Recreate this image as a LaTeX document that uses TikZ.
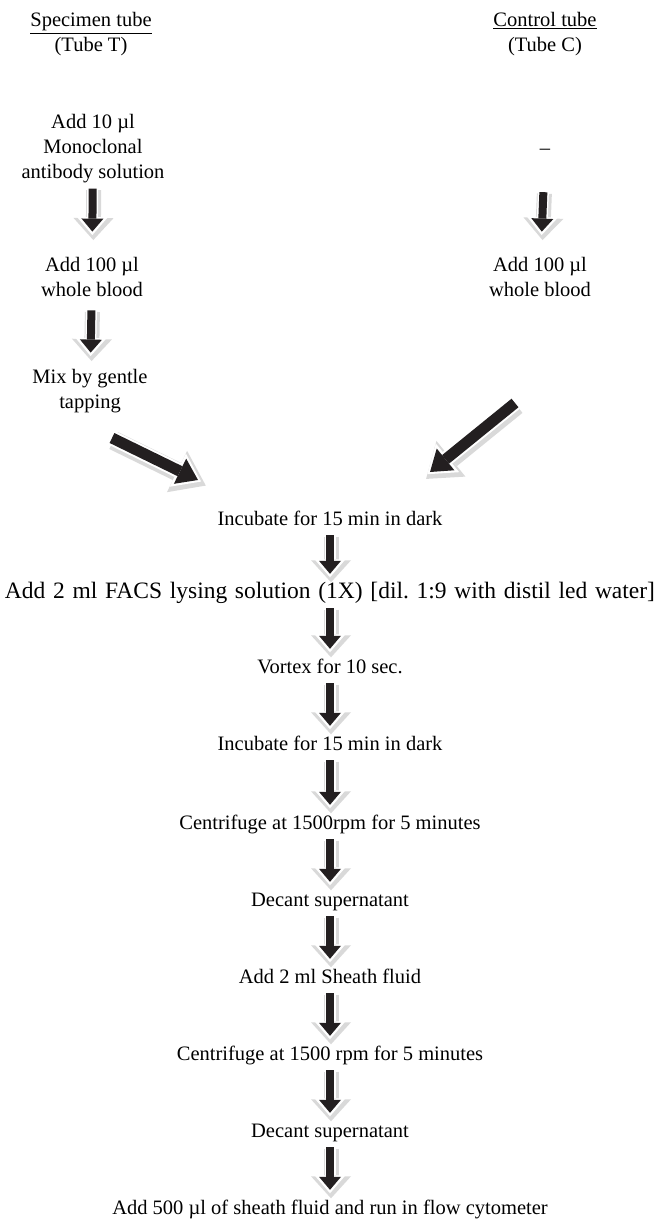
\documentclass[tikz,border=0pt]{standalone}
\usepackage{fontspec}
\setmainfont{Liberation Serif}
\usepackage{tikz}
\usetikzlibrary{arrows.meta,positioning,calc}
\definecolor{ink}{HTML}{231F20}
\colorlet{shade}{black!15}
\frenchspacing
\tikzset{
  every node/.style={font=\fontsize{20.5}{25}\selectfont, inner sep=0pt},
  % --- nodes
  txt/.style  = {align=center, anchor=base},
  one/.style  = {txt, text height=14pt, text depth=5pt},
  % --- edges
  flow/.style = {draw=ink, line width=8pt, shorten <=5pt, shorten >=#1,
                 -{Triangle[width=22pt,length=13pt,line width=0pt]},
                 preaction={draw=shade, line width=15pt, shorten >=#1-7pt,
                   -{Triangle[width=40pt,length=22pt,line width=0pt]},
                   transform canvas={shift={(1pt,-1.5pt)}}},
                 preaction={draw=white, line width=11pt, shorten >=#1-3.5pt,
                   -{Triangle[width=31pt,length=18pt,line width=0pt]}}},
  flow/.default=10pt,
  flowd/.style= {draw=ink, line width=11pt,
                 -{Triangle[width=28pt,length=20pt,line width=0pt]},
                 preaction={draw=shade, line width=19pt, shorten >=-7pt,
                   -{Triangle[width=46pt,length=32pt,line width=0pt]},
                   transform canvas={shift={(1.5pt,-2.5pt)}}},
                 preaction={draw=white, line width=15pt, shorten >=-3.5pt,
                   -{Triangle[width=37pt,length=26pt,line width=0pt]}}},
}
\begin{document}
\begin{tikzpicture}[x=1pt,y=-1pt]
  \useasboundingbox (0,0) rectangle (661,1222);
  % two tubes (base = last line)
  \node[txt] (spec)   at (91,52)   {\underline{Specimen tube}\\(Tube T)};
  \node[txt] (ctrl)   at (545,52)  {\underline{Control tube}\\(Tube C)};
  \node[txt] (mab)    at (93,179)  {Add 10 µl\\Monoclonal\\antibody solution};
  \node[one] (none)   at (545,155) {--};
  \node[txt] (bloodT) at (92,297)  {Add 100 µl\\whole blood};
  \node[txt] (bloodC) at (540,297) {Add 100 µl\\whole blood};
  \node[txt] (mix)    at (90,408)  {Mix by gentle\\tapping};
  \draw[flow=26pt] (mab) -- (bloodT);
  \draw[flow=26pt, shorten <=32pt] (none) -- (bloodC);
  \draw[flow=16pt, shorten <=13pt] (bloodT) -- (mix);
  % common steps
  \node[one] (inc1)   at (330,525)  {Incubate for 15 min in dark};
  \node[one] (lyse)   at (330,598)  {\fontsize{23.5}{25}\selectfont\makebox[650pt][s]{Add 2 ml FACS lysing solution (1X) [dil. 1:9 with distil led water]}};
  \node[one] (vortex) at (330,673)  {Vortex for 10 sec.};
  \node[one] (inc2)   at (330,750)  {Incubate for 15 min in dark};
  \node[one] (spin1)  at (330,829)  {Centrifuge at 1500rpm for 5 minutes};
  \node[one] (dec1)   at (330,906)  {Decant supernatant};
  \node[one] (sheath) at (330,983)  {Add 2 ml Sheath fluid};
  \node[one] (spin2)  at (330,1060) {Centrifuge at 1500 rpm for 5 minutes};
  \node[one] (dec2)   at (330,1137) {Decant supernatant};
  \node[one] (run)    at (330,1214) {Add 500 µl of sheath fluid and run in flow cytometer};
  \coordinate (mixout)  at (112,438);
  \coordinate (incinl)  at (198,480);
  \coordinate (ctrlout) at (515,403);
  \coordinate (incinr)  at (430,472);
  \draw[flowd] (mixout) -- (incinl);
  \draw[flowd] (ctrlout) -- (incinr);
  \draw[flow] (inc1) -- (lyse);
  \draw[flow] (lyse) -- (vortex);
  \draw[flow] (vortex) -- (inc2);
  \draw[flow] (inc2) -- (spin1);
  \draw[flow] (spin1) -- (dec1);
  \draw[flow] (dec1) -- (sheath);
  \draw[flow] (sheath) -- (spin2);
  \draw[flow] (spin2) -- (dec2);
  \draw[flow] (dec2) -- (run);
\end{tikzpicture}
\end{document}
